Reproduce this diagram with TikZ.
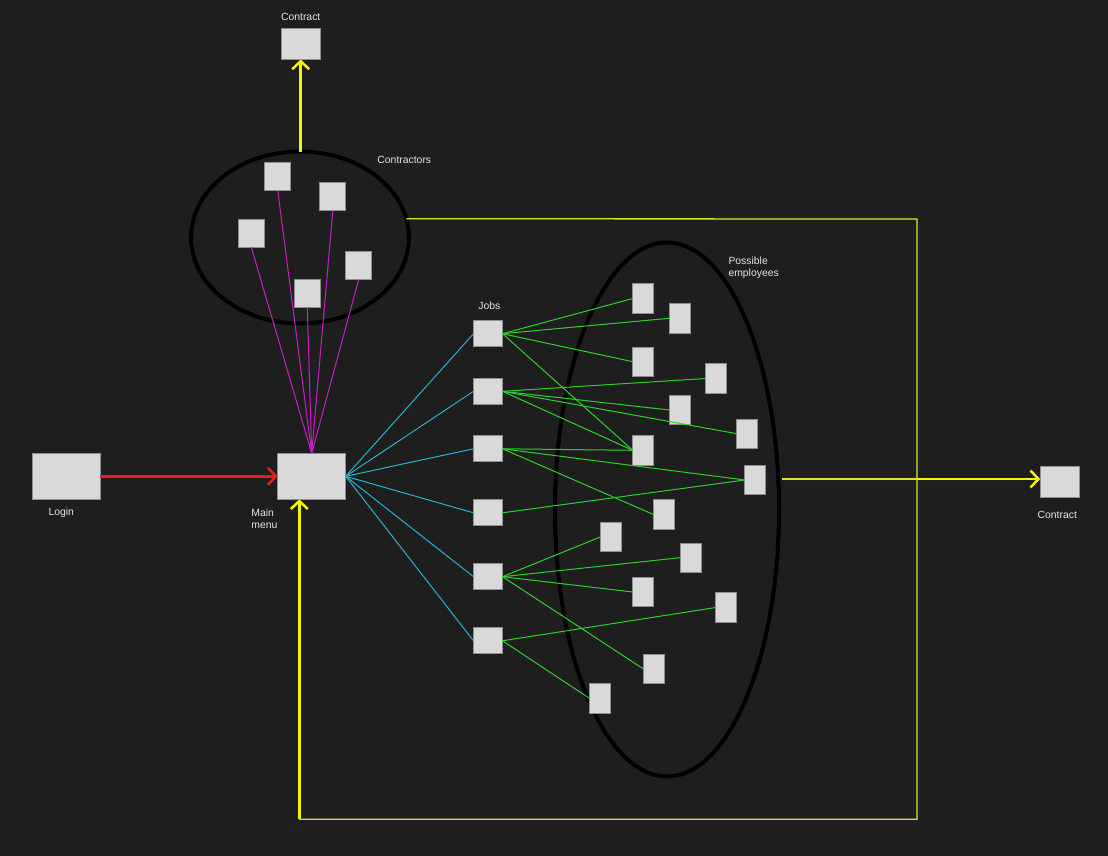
\documentclass[tikz,border=0pt]{standalone}
\usepackage{fontspec}
\setmainfont{Liberation Sans}
\usetikzlibrary{arrows.meta,shapes.geometric}
\definecolor{bg}{HTML}{1E1E1E}
\definecolor{boxfill}{HTML}{D9D9D9}
\definecolor{boxline}{HTML}{8F8F8F}
\definecolor{txt}{HTML}{E6E6E6}
\definecolor{cred}{HTML}{E81E1E}
\definecolor{cmag}{HTML}{C81EC8}
\definecolor{ccyan}{HTML}{1EB4D2}
\definecolor{cgreen}{HTML}{2AD22A}
\definecolor{cyelthin}{HTML}{E2E22E}
\definecolor{cyel}{HTML}{F5F50A}
\tikzset{
  box/.style={fill=boxfill,draw=boxline,line width=0.8pt,inner sep=0pt,outer sep=0pt},
  bigbox/.style={box,minimum width=68pt,minimum height=46pt},
  cbox/.style={box,minimum width=39pt,minimum height=31pt},
  ctrbox/.style={box,minimum width=26pt,minimum height=28pt},
  jobbox/.style={box,minimum width=29pt,minimum height=26pt},
  empbox/.style={box,minimum width=21pt,minimum height=29.5pt},
  lbl/.style={text=txt,font=\fontsize{10.4}{12}\selectfont,inner sep=0pt,align=center},
  lbll/.style={lbl,align=left},
  group/.style={ellipse,draw=black,line width=4pt,inner sep=0pt,outer sep=0pt},
  arr/.style={-{Straight Barb[length=8pt,width=17pt]}},
  redarrow/.style={arr,draw=cred,line width=2.5pt},
  yelarrow/.style={arr,draw=cyel,line width=2.5pt},
  yelthin/.style={draw=cyelthin,line width=1.3pt},
  magline/.style={draw=cmag,line width=1pt},
  cyanline/.style={draw=ccyan,line width=1pt},
  greenline/.style={draw=cgreen,line width=1pt},
}
\begin{document}
\begin{tikzpicture}[x=1pt,y=-1pt]
\fill[bg] (0,0) rectangle (1108,856);
\useasboundingbox (0,0) rectangle (1108,856);

% group ellipses
\node[group,minimum width=218pt,minimum height=172pt] (contractors) at (300,237.5) {};
\node[group,minimum width=224pt,minimum height=534pt] (employees) at (667,509.5) {};

% main boxes
\node[bigbox] (login) at (66.3,476.3) {};
\node[bigbox] (mm) at (311.7,476.3) {};
\node[cbox] (contractT) at (300.7,44) {};
\node[cbox] (contractR) at (1059.7,481.5) {};

% labels
\node[lbl] (lContractT) at (300.7,17.3) {Contract};
\node[lbl] (lContractors) at (404.3,159.7) {Contractors};
\node[lbl] (lJobs) at (489.3,306) {Jobs};
\node[lbll,anchor=west] (lEmp) at (728.3,268) {Possible\\employees};
\node[lbl] (lLogin) at (61.3,513.3) {Login};
\node[lbll,anchor=west] (lMain) at (251.2,519) {Main\\menu};
\node[lbl] (lContractR) at (1057.3,514.7) {Contract};

% contractor boxes
\node[ctrbox] (c1) at (277.8,176.8) {};
\node[ctrbox] (c2) at (332.8,196.8) {};
\node[ctrbox] (c3) at (251.3,233.3) {};
\node[ctrbox] (c4) at (358.7,265.5) {};
\node[ctrbox] (c5) at (307.3,293.3) {};

% job boxes
\node[jobbox] (j1) at (488,333.7) {};
\node[jobbox] (j2) at (488,391.3) {};
\node[jobbox] (j3) at (488,448.8) {};
\node[jobbox] (j4) at (488,512.8) {};
\node[jobbox] (j5) at (488,576.7) {};
\node[jobbox] (j6) at (488,640.8) {};

% employee boxes
\node[empbox] (p1) at (643.3,298.5) {};
\node[empbox] (p2) at (679.8,318.3) {};
\node[empbox] (p3) at (643.3,361.7) {};
\node[empbox] (p4) at (716.2,378.5) {};
\node[empbox] (p5) at (679.8,410) {};
\node[empbox] (p6) at (747.3,433.7) {};
\node[empbox] (p7) at (643.3,450.3) {};
\node[empbox] (p8) at (755.3,480) {};
\node[empbox] (p9) at (664,514.5) {};
\node[empbox] (p10) at (610.7,537) {};
\node[empbox] (p11) at (690.7,557.7) {};
\node[empbox] (p12) at (643.3,592) {};
\node[empbox] (p13) at (726.3,607.5) {};
\node[empbox] (p14) at (653.7,668.8) {};
\node[empbox] (p15) at (600.2,698.5) {};

% magenta: contractors to main menu
\foreach \c in {c1,c2,c3,c4,c5}
  \draw[magline] (\c.south) -- (mm.north);

% cyan: main menu to jobs
\foreach \j in {j1,j2,j3,j4,j5,j6}
  \draw[cyanline] (mm.east) -- (\j.west);

% green: jobs to employees
\foreach \j/\p in {j1/p1,j1/p2,j1/p3,j1/p7,
                   j2/p4,j2/p5,j2/p6,j2/p7,
                   j3/p7,j3/p8,j3/p9,
                   j4/p8,
                   j5/p10,j5/p11,j5/p12,j5/p14,
                   j6/p13,j6/p15}
  \draw[greenline] (\j.east) -- (\p.west);

% yellow frame
\coordinate (yTR) at (917,219);
\coordinate (yBR) at (917,819.3);
\coordinate (yBL) at (299.3,819.3);
\coordinate (yMid) at (917,479);
\coordinate (eOut) at (782,479);
\draw[yelthin] (contractors.10) -- (yTR) -- (yBR) -- (yBL);
\draw[yelthin] (eOut) -- (yMid);
\draw[yelarrow] (yBL) -- (yBL |- mm.south);
\draw[yelarrow] (yMid) -- (contractR.west |- yMid);
\draw[yelarrow] (contractors.north -| contractT.south) -- (contractT.south);

% red arrow
\draw[redarrow] (login.east) -- (mm.west);
\end{tikzpicture}
\end{document}
